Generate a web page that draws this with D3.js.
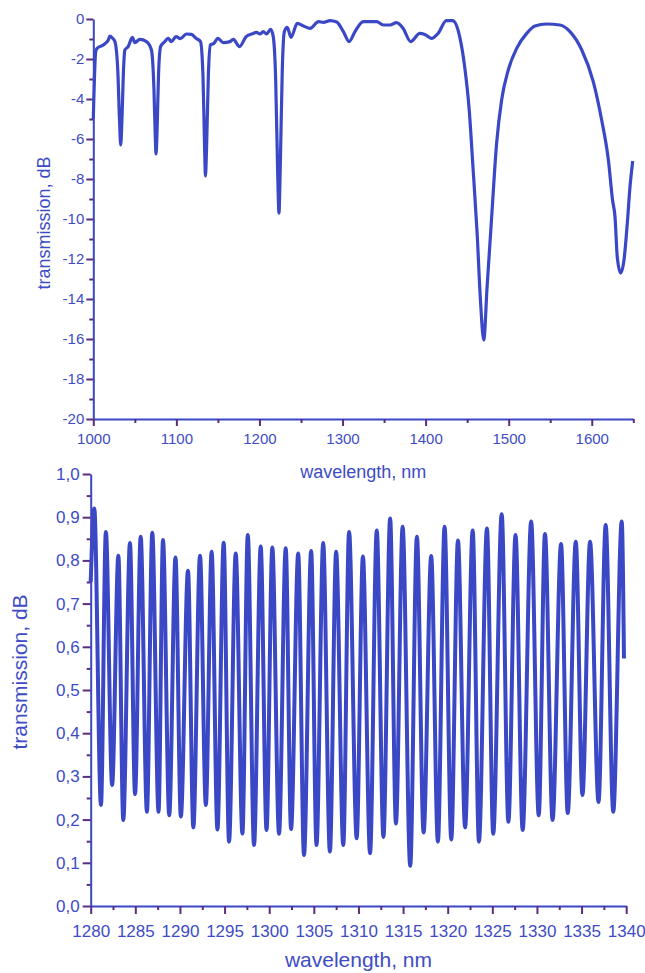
<!DOCTYPE html>
<html lang="en">
<head>
  <meta charset="UTF-8">
  <title>transmission spectra</title>
  <script src="https://cdn.jsdelivr.net/npm/d3@7"></script>
  <style>
    body { margin: 0; background: #fff; }
    text { font-family: "Liberation Sans", Arial, sans-serif; fill: #3d4cc6; }
  </style>
</head>
<body>
<div id="chart"></div>
<script>

// top panel: broad spectrum, 1000-1650 nm
var topWavelength = [1000, 1003, 1005, 1012, 1018, 1020, 1023, 1026, 1029.5, 1031.5, 1033, 1034.5, 1036.5, 1038,
  1042, 1047, 1050, 1056, 1064, 1070, 1073, 1074.7, 1075.5, 1076.6, 1078.5, 1081, 1086, 1090, 1094, 1099.5,
  1105, 1112, 1118, 1124, 1129, 1132, 1134, 1135, 1136.3, 1138.5, 1141, 1145, 1150, 1156.5, 1164.5, 1168.5,
  1176, 1184, 1192.5, 1196.5, 1200.5, 1204.6, 1208.5, 1213.5, 1216.6, 1219.5, 1222, 1223.5, 1225, 1227.5,
  1230, 1233.5, 1238, 1245.5, 1253, 1261, 1271, 1277, 1285, 1293, 1301, 1308, 1315, 1325, 1341, 1349, 1357,
  1365, 1373, 1382, 1393, 1399, 1407, 1415, 1425, 1432.6, 1441, 1447, 1452.5, 1457, 1462, 1466, 1470, 1474,
  1479.5, 1485.5, 1491.5, 1499.5, 1509.6, 1521.7, 1531.6, 1545.7, 1561.7, 1573.8, 1588, 1601.8, 1611.9,
  1620, 1625, 1628, 1630.7, 1634.8, 1638.8, 1642.8, 1646, 1649.3];
var topTransmission = [-5.0, -1.6, -1.45, -1.3, -1.05, -0.85, -0.95, -1.13, -2.6, -5.0, -6.3, -5.0, -2.4, -1.55,
  -1.38, -0.92, -1.18, -1.02, -1.13, -1.55, -3.5, -6.0, -6.75, -5.8, -2.8, -1.38, -1.13, -0.97, -1.13, -0.88,
  -0.98, -0.75, -0.77, -0.97, -1.13, -2.8, -6.5, -7.85, -6.5, -2.8, -1.3, -1.22, -0.97, -1.18, -1.13, -1.02,
  -1.38, -0.88, -0.72, -0.67, -0.75, -0.63, -0.75, -0.52, -0.88, -3.0, -7.8, -9.7, -7.5, -2.5,
  -0.63, -0.42, -0.92, -0.22, -0.35, -0.47, -0.13, -0.17, -0.08, -0.15, -0.63, -1.13, -0.63, -0.13, -0.13, -0.3, -0.3,
  -0.18, -0.47, -1.13, -0.72, -0.77, -0.97, -0.72, -0.08, -0.08, -0.88, -2.38, -4.55, -7.4, -10.7, -14.05, -16.05, -13.4,
  -9.9, -6.2, -4.05, -2.55, -1.47, -0.72, -0.35, -0.25, -0.3, -0.63, -1.55, -3.13, -5.05,
  -7.05, -9.05, -9.9, -11.9, -12.7, -12.05, -10.2, -8.4, -7.1];

// bottom panel: fringes, 1280-1340 nm (peaks and valleys)
var bottomWavelength = [1280.0, 1280.4, 1281.15, 1281.7, 1282.4, 1283.1, 1283.65, 1284.4, 1284.97, 1285.6,
  1286.3, 1286.9, 1287.6, 1288.1, 1288.8, 1289.5, 1290.1, 1290.9, 1291.5, 1292.25, 1292.9, 1293.55, 1294.2,
  1294.9, 1295.5, 1296.25, 1297, 1297.6, 1298.3, 1299.05, 1299.7, 1300.35, 1301.1, 1301.85, 1302.45, 1303.25,
  1303.9, 1304.7, 1305.3, 1306.05, 1306.8, 1307.5, 1308.3, 1308.95, 1309.8, 1310.5, 1311.3, 1312.05, 1312.8,
  1313.55, 1314.2, 1314.95, 1315.8, 1316.55, 1317.3, 1318.15, 1318.9, 1319.65, 1320.4, 1321.15, 1321.95,
  1322.8, 1323.5, 1324.4, 1325.1, 1326.05, 1326.8, 1327.6, 1328.4, 1329.35, 1330.2, 1330.9, 1331.75, 1332.7,
  1333.45, 1334.35, 1335.1, 1335.95, 1336.9, 1337.7, 1338.55, 1339.5, 1339.75];
var bottomTransmission = [0.75, 0.92, 0.234, 0.866, 0.28, 0.811, 0.199, 0.84, 0.259, 0.855,
  0.218, 0.864, 0.218, 0.847, 0.21, 0.807, 0.207, 0.776, 0.182, 0.811, 0.234, 0.82, 0.177,
  0.841, 0.149, 0.816, 0.168, 0.859, 0.141, 0.832, 0.176, 0.83, 0.167, 0.828, 0.178, 0.816,
  0.118, 0.822, 0.141, 0.84, 0.126, 0.82, 0.141, 0.866, 0.157, 0.809, 0.122, 0.869, 0.16,
  0.897, 0.191, 0.878, 0.093, 0.855, 0.17, 0.81, 0.149, 0.878, 0.154, 0.846, 0.182,
  0.869, 0.149, 0.874, 0.167, 0.907, 0.195, 0.859, 0.176, 0.89, 0.21, 0.861, 0.199, 0.838,
  0.215, 0.843, 0.257, 0.843, 0.241, 0.882, 0.218, 0.89, 0.573];

var topXTicks = [1000, 1100, 1200, 1300, 1400, 1500, 1600];
var topXMinor = [1050, 1150, 1250, 1350, 1450, 1550, 1650];
var topYTicks = [0, -2, -4, -6, -8, -10, -12, -14, -16, -18, -20];
var topYMinor = [-1, -3, -5, -7, -9, -11, -13, -15, -17, -19];
var bottomXTicks = [1280, 1285, 1290, 1295, 1300, 1305, 1310, 1315, 1320, 1325, 1330, 1335, 1340];
var bottomXMinor = [1282.5, 1287.5, 1292.5, 1297.5, 1302.5, 1307.5, 1312.5, 1317.5, 1322.5, 1327.5, 1332.5, 1337.5];
var bottomYTicks = [0, 0.1, 0.2, 0.3, 0.4, 0.5, 0.6, 0.7, 0.8, 0.9, 1.0];
var bottomYMinor = [0.05, 0.15, 0.25, 0.35, 0.45, 0.55, 0.65, 0.75, 0.85, 0.95];

var lineColor = "#3a48c6";
var tickColor = "#5b2c80";

var svg = d3.select("#chart")
    .append("svg")
    .attr("width", 645)
    .attr("height", 973);

function styleAxis(g, labelSize) {
    g.select(".domain").attr("stroke", lineColor).attr("stroke-width", 2);
    g.selectAll(".tick line").attr("stroke", tickColor).attr("stroke-width", 2);
    g.selectAll(".tick text")
        .attr("fill", "#3d4cc6")
        .style("font-size", labelSize + "px")
        .style("font-family", "'Liberation Sans', Arial, sans-serif");
}

function drawPanel(p) {
    var x = d3.scaleLinear().domain(p.xDomain).range([p.left, p.right]);
    var y = d3.scaleLinear().domain(p.yDomain).range([p.bottom, p.top]);

    // minor ticks first, then labelled ticks on top
    svg.append("g")
        .attr("transform", "translate(0," + p.bottom + ")")
        .call(d3.axisBottom(x).tickValues(p.xMinor).tickSize(p.minorLen).tickSizeOuter(0).tickFormat(""))
        .call(styleAxis, p.labelSize);
    svg.append("g")
        .attr("transform", "translate(" + p.left + ",0)")
        .call(d3.axisLeft(y).tickValues(p.yMinor).tickSize(p.minorLen).tickSizeOuter(0).tickFormat(""))
        .call(styleAxis, p.labelSize);

    var xAxis = svg.append("g")
        .attr("transform", "translate(0," + p.bottom + ")")
        .call(d3.axisBottom(x).tickValues(p.xTicks).tickSize(p.majorLen).tickSizeOuter(0)
            .tickPadding(p.xPad).tickFormat(function(d) { return String(d); }))
        .call(styleAxis, p.labelSize);
    xAxis.select(".domain").remove();

    var yAxis = svg.append("g")
        .attr("transform", "translate(" + p.left + ",0)")
        .call(d3.axisLeft(y).tickValues(p.yTicks).tickSize(p.majorLen).tickSizeOuter(0)
            .tickPadding(p.yPad).tickFormat(p.yFormat))
        .call(styleAxis, p.labelSize);
    yAxis.select(".domain").remove();

    var line = d3.line()
        .x(function(d) { return x(d[0]); })
        .y(function(d) { return y(d[1]); })
        .curve(d3.curveMonotoneX);

    svg.append("path")
        .datum(d3.zip(p.xs, p.ys))
        .attr("fill", "none")
        .attr("stroke", lineColor)
        .attr("stroke-width", p.lineWidth)
        .attr("stroke-linejoin", "round")
        .attr("d", line);

    svg.append("text")
        .attr("text-anchor", "middle")
        .attr("x", (p.left + p.right) / 2)
        .attr("y", p.xTitleY)
        .style("font-size", p.titleSize + "px")
        .text("wavelength, nm");

    svg.append("text")
        .attr("text-anchor", "middle")
        .attr("transform", "translate(" + p.yTitleX + "," + p.yTitleCY + ") rotate(-90)")
        .style("font-size", p.titleSize + "px")
        .text("transmission, dB");
}

drawPanel({
    xs: topWavelength, ys: topTransmission,
    xDomain: [1000, 1650], yDomain: [-20, 0],
    left: 93.3, right: 633.3, top: 19, bottom: 419,
    xTicks: topXTicks, xMinor: topXMinor, yTicks: topYTicks, yMinor: topYMinor,
    majorLen: 7, minorLen: 4, xPad: 7, yPad: 2,
    yFormat: function(d) { return String(d); },
    labelSize: 15, titleSize: 18, lineWidth: 3.2,
    xTitleY: 478, yTitleX: 50, yTitleCY: 223
});

drawPanel({
    xs: bottomWavelength, ys: bottomTransmission,
    xDomain: [1280, 1340], yDomain: [0, 1],
    left: 90.7, right: 626.2, top: 474, bottom: 906,
    xTicks: bottomXTicks, xMinor: bottomXMinor, yTicks: bottomYTicks, yMinor: bottomYMinor,
    majorLen: 8, minorLen: 4, xPad: 11, yPad: 3,
    yFormat: function(d) { return d.toFixed(1).replace(".", ","); },
    labelSize: 17, titleSize: 21, lineWidth: 4,
    xTitleY: 967, yTitleX: 27, yTitleCY: 672
});

</script>
</body>
</html>
